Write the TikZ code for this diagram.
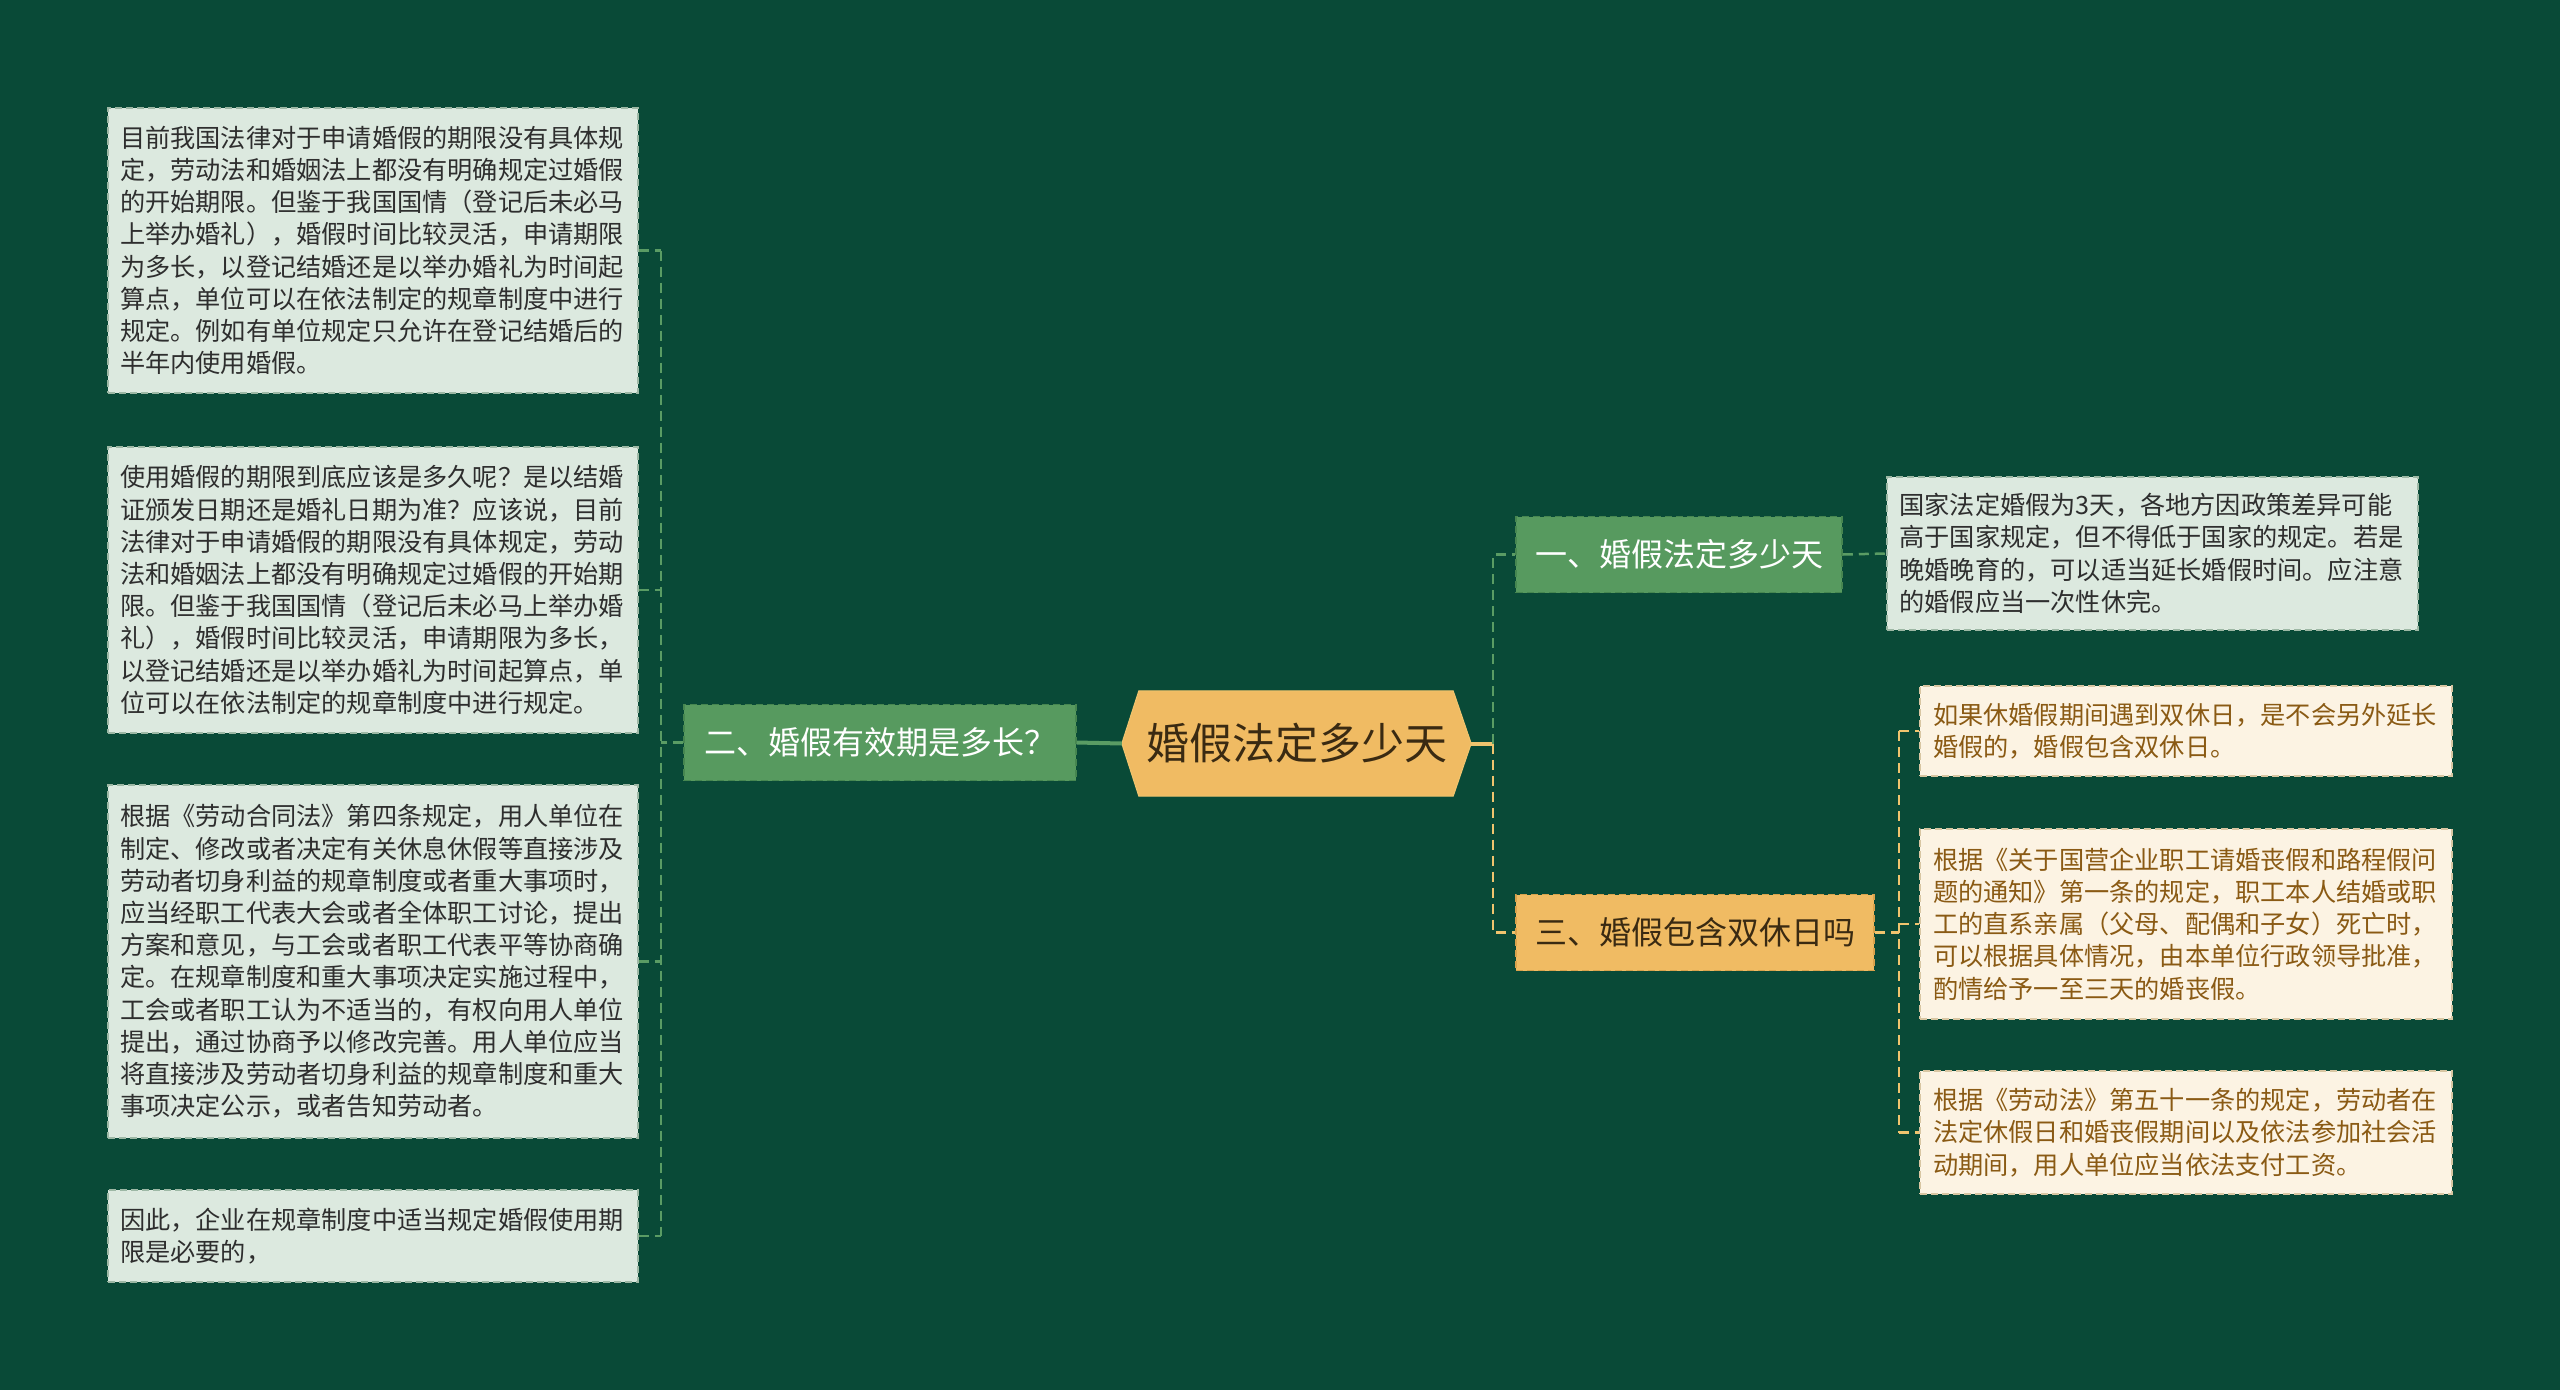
\documentclass[tikz,border=0pt]{standalone}
\usepackage{fontspec}
\newfontfamily\cjk{Noto Sans CJK SC}
\definecolor{bg}{HTML}{094A37}
\definecolor{mint}{HTML}{DCE9DF}
\definecolor{mintline}{HTML}{9DB8A5}
\definecolor{cream}{HTML}{FCF3E3}
\definecolor{creamline}{HTML}{D8C6A2}
\definecolor{gnode}{HTML}{579A5F}
\definecolor{gnodeline}{HTML}{468650}
\definecolor{ynode}{HTML}{F0BB63}
\definecolor{ynodeline}{HTML}{D9A24C}
\definecolor{gconn}{HTML}{5A9C64}
\definecolor{yconn}{HTML}{F0C46E}
\definecolor{darktext}{HTML}{2E2E2E}
\definecolor{browntext}{HTML}{8A5A14}
\definecolor{roottext}{HTML}{3A2A12}
\begin{document}
\begin{tikzpicture}[x=1pt,y=-1pt,
  txtbox/.style={font=\cjk\fontsize{25.2}{32.2}\selectfont, text width=506pt, align=left,
    inner xsep=12pt, inner ysep=0pt, minimum width=530pt, dash pattern=on 7pt off 4pt, line width=1.5pt},
  mintbox/.style={txtbox, fill=mint, draw=mintline, text=darktext},
  creambox/.style={txtbox, fill=cream, draw=creamline, text=browntext},
  topic/.style={font=\cjk\fontsize{32}{36}\selectfont, inner xsep=19pt, inner ysep=0pt,
    minimum height=76pt, dash pattern=on 7pt off 4pt, line width=1.5pt},
  gtopic/.style={topic, fill=gnode, draw=gnodeline, text=white},
  ytopic/.style={topic, fill=ynode, draw=ynodeline, text=roottext},
  gconnector/.style={draw=gconn, line width=2.5pt, dash pattern=on 10pt off 6pt},
  yconnector/.style={draw=yconn, line width=2.5pt, dash pattern=on 10pt off 6pt}
]
\useasboundingbox[fill=bg] (0,0) rectangle (2560,1390);

% root
\node[font=\cjk\fontsize{43}{48}\selectfont, text=roottext, minimum width=349pt, minimum height=105pt, inner sep=0pt] (root) at (1296.5,743.5) {婚假法定多少天};
\fill[ynode, draw=yconn, line width=1pt] (root.west) -- ([xshift=17pt]root.north west) -- ([xshift=-18pt]root.north east) -- (root.east) -- ([xshift=-18pt]root.south east) -- ([xshift=17pt]root.south west) -- cycle;
\node[font=\cjk\fontsize{43}{48}\selectfont, text=roottext, inner sep=0pt] (roottxt) at (root.center) {婚假法定多少天};

% topics
\node[gtopic, minimum width=392pt] (n2) at (880,742.5) {二、婚假有效期是多长？};
\node[gtopic, minimum width=326pt] (n1) at (1679,554.5) {一、婚假法定多少天};
\node[ytopic, minimum width=358pt] (n3) at (1695,932.5) {三、婚假包含双休日吗};

% left boxes
\node[mintbox, minimum height=285pt] (L1) at (373,250.5) {目前我国法律对于申请婚假的期限没有具体规\\定，劳动法和婚姻法上都没有明确规定过婚假\\的开始期限。但鉴于我国国情（登记后未必马\\上举办婚礼），婚假时间比较灵活，申请期限\\为多长，以登记结婚还是以举办婚礼为时间起\\算点，单位可以在依法制定的规章制度中进行\\规定。例如有单位规定只允许在登记结婚后的\\半年内使用婚假。};
\node[mintbox, minimum height=286pt] (L2) at (373,590) {使用婚假的期限到底应该是多久呢？是以结婚\\证颁发日期还是婚礼日期为准？应该说，目前\\法律对于申请婚假的期限没有具体规定，劳动\\法和婚姻法上都没有明确规定过婚假的开始期\\限。但鉴于我国国情（登记后未必马上举办婚\\礼），婚假时间比较灵活，申请期限为多长，\\以登记结婚还是以举办婚礼为时间起算点，单\\位可以在依法制定的规章制度中进行规定。};
\node[mintbox, minimum height=353pt] (L3) at (373,961.5) {根据《劳动合同法》第四条规定，用人单位在\\制定、修改或者决定有关休息休假等直接涉及\\劳动者切身利益的规章制度或者重大事项时，\\应当经职工代表大会或者全体职工讨论，提出\\方案和意见，与工会或者职工代表平等协商确\\定。在规章制度和重大事项决定实施过程中，\\工会或者职工认为不适当的，有权向用人单位\\提出，通过协商予以修改完善。用人单位应当\\将直接涉及劳动者切身利益的规章制度和重大\\事项决定公示，或者告知劳动者。};
\node[mintbox, minimum height=92pt] (L4) at (373,1236) {因此，企业在规章制度中适当规定婚假使用期\\限是必要的，};

% right boxes
\node[mintbox, minimum height=153pt, minimum width=531pt] (R1) at (2152.5,553.5) {国家法定婚假为3天，各地方因政策差异可能\\高于国家规定，但不得低于国家的规定。若是\\晚婚晚育的，可以适当延长婚假时间。应注意\\的婚假应当一次性休完。};
\node[creambox, minimum height=90pt, minimum width=532pt] (Y1) at (2186,731) {如果休婚假期间遇到双休日，是不会另外延长\\婚假的，婚假包含双休日。};
\node[creambox, minimum height=190pt, minimum width=532pt] (Y2) at (2186,924) {根据《关于国营企业职工请婚丧假和路程假问\\题的通知》第一条的规定，职工本人结婚或职\\工的直系亲属（父母、配偶和子女）死亡时，\\可以根据具体情况，由本单位行政领导批准，\\酌情给予一至三天的婚丧假。};
\node[creambox, minimum height=123pt, minimum width=532pt] (Y3) at (2186,1132.5) {根据《劳动法》第五十一条的规定，劳动者在\\法定休假日和婚丧假期间以及依法参加社会活\\动期间，用人单位应当依法支付工资。};

% spine coordinates
\coordinate (ls) at (661,742.5);
\coordinate (rs) at (1493,743.5);
\coordinate (ys) at (1899,932.5);

% connectors: root to topics
\draw[draw=gconn, line width=4pt] (n2.east) -- (root.west);
\draw[draw=yconn, line width=4pt] (root.east) -- (rs);
\draw[gconnector] (rs) -- (rs |- n1.west) -- (n1.west);
\draw[yconnector] (rs) -- (rs |- n3.west) -- (n3.west);

% left branch
\draw[gconnector] (n2.west) -- (ls);
\draw[gconnector] (ls |- L1.east) -- (ls |- L4.east);
\draw[gconnector] (L1.east) -- (L1.east -| ls);
\draw[gconnector] (L2.east) -- (L2.east -| ls);
\draw[gconnector] (L3.east) -- (L3.east -| ls);
\draw[gconnector] (L4.east) -- (L4.east -| ls);

% right green branch
\draw[gconnector] (n1.east) -- (R1.west);

% yellow branch
\draw[yconnector] (n3.east) -- (ys);
\draw[yconnector] (ys |- Y1.west) -- (ys |- Y3.west);
\draw[yconnector] (Y1.west -| ys) -- (Y1.west);
\draw[yconnector] (Y2.west -| ys) -- (Y2.west);
\draw[yconnector] (Y3.west -| ys) -- (Y3.west);
\end{tikzpicture}
\end{document}
